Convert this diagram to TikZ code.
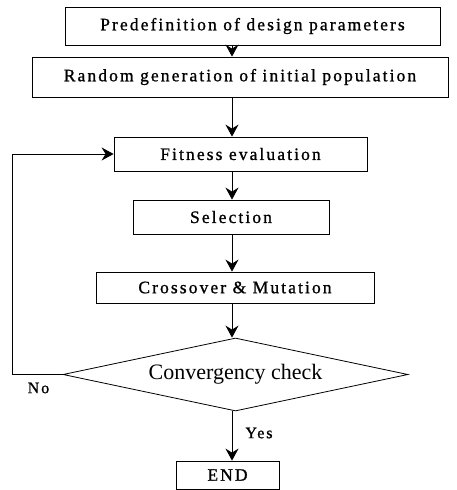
\documentclass[tikz,border=0pt]{standalone}
\usepackage{fontspec}
\setmainfont{Liberation Serif}
\newfontfamily\boxfont[LetterSpace=12,FakeBold=1]{Liberation Serif}
\usetikzlibrary{shapes.geometric,arrows.meta}
\tikzset{
  procbox/.style={draw, line width=0.8pt, inner sep=0pt, font=\boxfont\fontsize{17.5}{20}\selectfont},
  arr/.style={line width=0.8pt, -{Stealth[length=12pt,width=13pt,inset=4pt]}},
  lbl/.style={font=\boxfont\fontsize{16}{19}\selectfont, inner sep=0pt},
}
\begin{document}
\begin{tikzpicture}[x=1pt,y=1pt]
\useasboundingbox (0,0) rectangle (457,-490);
\node[procbox, minimum width=375pt, minimum height=38pt] (b1) at (252.5,-26) {Predefinition of design parameters};
\node[procbox, minimum width=416pt, minimum height=40pt] (b2) at (240,-77) {Random generation of initial population};
\node[procbox, minimum width=253pt, minimum height=34pt] (b3) at (240.5,-154) {Fitness evaluation};
\node[procbox, minimum width=196pt, minimum height=34pt] (b4) at (231,-217) {Selection};
\node[procbox, minimum width=278pt, minimum height=31pt] (b5) at (235,-287.5) {Crossover \& Mutation};
\node[draw, line width=0.8pt, shape=diamond, aspect=4.7, inner sep=0pt, minimum width=345pt, minimum height=73pt, font=\fontsize{22}{26}\selectfont] (d) at (235.5,-374.5) {Convergency check};
\node[procbox, minimum width=103pt, minimum height=28pt] (e) at (227.5,-475) {END};
\coordinate (ax) at (232,0);
\coordinate (lp) at (12,-374.5);
\draw[arr] (b1.south -| ax) -- (b2.north -| ax);
\draw[arr] (b2.south -| ax) -- (b3.north -| ax);
\draw[arr] (b3.south -| ax) -- (b4.north -| ax);
\draw[arr] (b4.south -| ax) -- (b5.north -| ax);
\draw[arr] (b5.south -| ax) -- (d.north -| ax);
\draw[arr] (d.south -| ax) -- (e.north -| ax);
\draw[arr] (d.west) -- (lp) |- (b3.west);
\node[lbl] (no) at (38.5,-388) {No};
\node[lbl] (yes) at (259,-433) {Yes};
\end{tikzpicture}
\end{document}
